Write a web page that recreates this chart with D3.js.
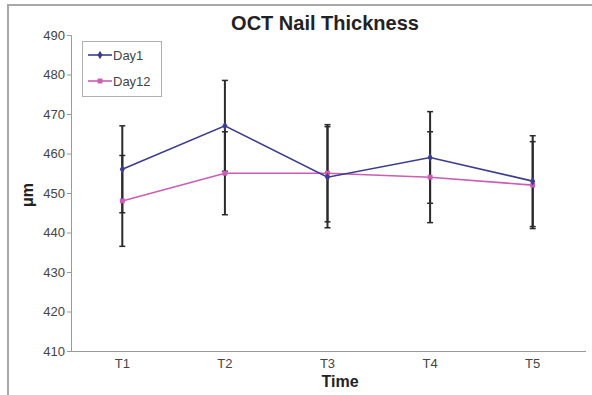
<!DOCTYPE html>
<html>
<head>
<meta charset="utf-8">
<script src="https://cdn.jsdelivr.net/npm/d3@7"></script>
<style>
  html, body { margin: 0; padding: 0; background: #fff; }
  svg { display: block; font-family: Arial, "Liberation Sans", sans-serif; }
</style>
</head>
<body>
<svg id="chart" width="592" height="395"></svg>
<script>
// Time points and series
const timepoints = ["T1", "T2", "T3", "T4", "T5"];
const day1Mean = [456, 467, 454, 459, 453];
const day1Err  = [11, 11.5, 12.8, 11.6, 11.5];
const day12Mean = [448, 455, 455, 454, 452];
const day12Err  = [11.5, 10.5, 12.3, 11.5, 11];
const yTicks = [410, 420, 430, 440, 450, 460, 470, 480, 490];

const svg = d3.select("#chart");

// outer frame
svg.append("rect")
  .attr("x", 8).attr("y", 5).attr("width", 620).attr("height", 420)
  .attr("fill", "none").attr("stroke", "#a8a8a8").attr("stroke-width", 2);

const x0 = 71, x1 = 584, yTop = 35, yBot = 351;
const x = d3.scaleBand().domain(timepoints).range([x0, x1]);
const y = d3.scaleLinear().domain([410, 490]).range([yBot, yTop]);
const cx = d => x(d) + x.bandwidth() / 2;

// axes
const yAxis = d3.axisLeft(y).tickValues(yTicks).tickSize(4).tickPadding(2);
const gy = svg.append("g").attr("transform", `translate(${x0},0)`).call(yAxis);
gy.select(".domain").attr("stroke", "#9a9a9a");
gy.selectAll(".tick line").attr("stroke", "#9a9a9a");
gy.selectAll(".tick text").attr("fill", "#444").attr("font-size", 13)
  .attr("font-family", "Arial, 'Liberation Sans', sans-serif");

const xAxis = d3.axisBottom(x).tickSize(0).tickPadding(8);
const gx = svg.append("g").attr("transform", `translate(0,${yBot})`).call(xAxis);
gx.select(".domain").attr("stroke", "#9a9a9a").attr("d", `M${x0},0.5H${586}`);
gx.selectAll(".tick text").attr("fill", "#444").attr("font-size", 13)
  .attr("font-family", "Arial, 'Liberation Sans', sans-serif");

// titles
svg.append("text").attr("x", 325).attr("y", 30).attr("text-anchor", "middle")
  .attr("font-weight", "bold").attr("font-size", 20).attr("fill", "#222")
  .text("OCT Nail Thickness");
svg.append("text").attr("x", 340).attr("y", 387).attr("text-anchor", "middle")
  .attr("font-weight", "bold").attr("font-size", 16).attr("fill", "#222")
  .text("Time");
svg.append("text").attr("transform", "translate(33,195) rotate(-90)")
  .attr("text-anchor", "middle").attr("font-weight", "bold").attr("font-size", 16)
  .attr("fill", "#222").text("μm");

const series = [
  { name: "Day1", mean: day1Mean, err: day1Err, color: "#3c3c8e", marker: "diamond" },
  { name: "Day12", mean: day12Mean, err: day12Err, color: "#cc5cb4", marker: "square" }
];

// error bars
series.forEach(s => {
  const g = svg.append("g");
  timepoints.forEach((t, i) => {
    const hi = s.mean[i] + s.err[i], lo = s.mean[i] - s.err[i];
    g.append("line").attr("x1", cx(t)).attr("x2", cx(t))
      .attr("y1", y(hi)).attr("y2", y(lo)).attr("stroke", "#2a2a2a").attr("stroke-width", 2);
    [hi, lo].forEach(v => g.append("line")
      .attr("x1", cx(t) - 3).attr("x2", cx(t) + 3)
      .attr("y1", y(v)).attr("y2", y(v)).attr("stroke", "#2a2a2a").attr("stroke-width", 1.5));
  });
});

// lines and markers
const line = d3.line().x((d, i) => cx(timepoints[i])).y(d => y(d));
series.slice().reverse().forEach(s => {
  svg.append("path").datum(s.mean).attr("d", line)
    .attr("fill", "none").attr("stroke", s.color).attr("stroke-width", 1.6);
  const sym = d3.symbol().type(s.marker === "diamond" ? d3.symbolDiamond : d3.symbolSquare)
    .size(s.marker === "diamond" ? 22 : 24);
  svg.append("g").selectAll("path").data(s.mean).join("path")
    .attr("transform", (d, i) => `translate(${cx(timepoints[i])},${y(d)})`)
    .attr("d", sym).attr("fill", s.color);
});

// legend
const lg = svg.append("g");
lg.append("rect").attr("x", 82.5).attr("y", 41.5).attr("width", 79).attr("height", 55)
  .attr("fill", "#fff").attr("stroke", "#b0b0b0").attr("stroke-width", 1);
series.forEach((s, i) => {
  const ly = 55 + i * 26;
  lg.append("line").attr("x1", 88).attr("x2", 112).attr("y1", ly).attr("y2", ly)
    .attr("stroke", s.color).attr("stroke-width", 1.6);
  lg.append("path").attr("transform", `translate(100,${ly})`)
    .attr("d", d3.symbol().type(s.marker === "diamond" ? d3.symbolDiamond : d3.symbolSquare)
      .size(s.marker === "diamond" ? 22 : 24)).attr("fill", s.color);
  lg.append("text").attr("x", 113).attr("y", ly + 4.5).attr("font-size", 13)
    .attr("fill", "#444").text(s.name);
});
</script>
</body>
</html>
